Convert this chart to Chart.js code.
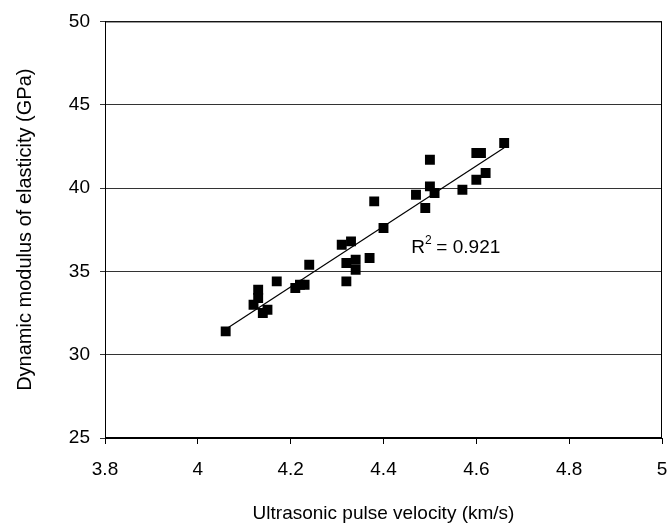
<!DOCTYPE html>
<html>
<head>
<meta charset="utf-8">
<script src="https://cdn.jsdelivr.net/npm/chart.js@4"></script>
<style>
  html, body { margin: 0; padding: 0; background: #fff; }
  #wrap { width: 671px; height: 526px; }
</style>
</head>
<body>
<div id="wrap"><canvas id="chart" width="671" height="526"></canvas></div>
<script>
// Ultrasonic pulse velocity (km/s)
const velocity = [4.06, 4.12, 4.13, 4.13, 4.14, 4.15, 4.17, 4.21, 4.22, 4.23, 4.24,
                  4.31, 4.33, 4.32, 4.34, 4.34, 4.32, 4.37, 4.38, 4.40,
                  4.50, 4.50, 4.47, 4.49, 4.51, 4.57, 4.60, 4.61, 4.60, 4.62, 4.66];
// Dynamic modulus of elasticity (GPa)
const modulus = [31.4, 33.0, 33.9, 33.4, 32.5, 32.7, 34.4, 34.0, 34.2, 34.2, 35.4,
                 36.6, 36.8, 35.5, 35.7, 35.1, 34.4, 35.8, 39.2, 37.6,
                 41.7, 40.1, 39.6, 38.8, 39.7, 39.9, 42.1, 42.1, 40.5, 40.9, 42.7];
const xTicks = [3.8, 4, 4.2, 4.4, 4.6, 4.8, 5];
const yTicks = [25, 30, 35, 40, 45, 50];
const r2Label = '0.921';

// least squares fit for the trend line
function linearFit(xs, ys) {
    const n = xs.length;
    const mx = xs.reduce((a, b) => a + b, 0) / n;
    const my = ys.reduce((a, b) => a + b, 0) / n;
    let sxy = 0, sxx = 0;
    for (let i = 0; i < n; i++) {
        sxy += (xs[i] - mx) * (ys[i] - my);
        sxx += (xs[i] - mx) * (xs[i] - mx);
    }
    const slope = sxy / sxx;
    return { slope, intercept: my - slope * mx };
}

const fit = linearFit(velocity, modulus);
const xMin = Math.min(...velocity);
const xMax = Math.max(...velocity);
const trend = [xMin, xMax].map(x => ({ x, y: fit.intercept + fit.slope * x }));
const points = velocity.map((v, i) => ({ x: v, y: modulus[i] }));

const font = 'Liberation Sans, Arial, sans-serif';

// frame around the plot area and the R² label
const extras = {
    id: 'extras',
    afterDraw(chart) {
        const { ctx, chartArea: a, scales } = chart;
        ctx.save();
        ctx.strokeStyle = '#000';
        ctx.lineWidth = 1;
        ctx.strokeRect(a.left + 0.5, a.top + 0.5, a.right - a.left - 1, a.bottom - a.top - 1);

        const px = scales.x.getPixelForValue(4.46);
        const py = scales.y.getPixelForValue(36.1);
        ctx.fillStyle = '#000';
        ctx.textBaseline = 'alphabetic';
        ctx.font = '19px ' + font;
        ctx.fillText('R', px, py);
        const w = ctx.measureText('R').width;
        ctx.font = '12px ' + font;
        ctx.fillText('2', px + w, py - 9);
        ctx.font = '19px ' + font;
        ctx.fillText(' = ' + r2Label, px + w + 6, py);
        ctx.restore();
    }
};

new Chart(document.getElementById('chart').getContext('2d'), {
    type: 'scatter',
    data: {
        datasets: [{
            label: 'Data',
            data: points,
            pointStyle: 'rect',
            pointRadius: 7,
            backgroundColor: '#000',
            borderColor: '#000',
            borderWidth: 0
        }, {
            type: 'line',
            label: 'Trend',
            data: trend,
            borderColor: '#000',
            borderWidth: 1.2,
            pointRadius: 0,
            fill: false
        }]
    },
    options: {
        responsive: false,
        animation: false,
        events: [],
        layout: { padding: { top: 20, right: 0, left: 0, bottom: 0 } },
        plugins: {
            legend: { display: false },
            tooltip: { enabled: false }
        },
        scales: {
            x: {
                type: 'linear',
                min: 3.8,
                max: 5,
                afterBuildTicks: scale => { scale.ticks = xTicks.map(v => ({ value: v })); },
                afterFit: scale => { scale.height = 88; scale.paddingRight = 9; },
                grid: { display: true, drawOnChartArea: false, tickLength: 6, color: '#000' },
                border: { color: '#000' },
                ticks: { color: '#000', font: { family: font, size: 19 }, padding: 14,
                         maxRotation: 0, callback: v => String(v) },
                title: { display: true, text: 'Ultrasonic pulse velocity (km/s)', color: '#000',
                         font: { family: font, size: 19 }, padding: { top: 0, bottom: 1 } }
            },
            y: {
                min: 25,
                max: 50,
                afterBuildTicks: scale => { scale.ticks = yTicks.map(v => ({ value: v })); },
                afterFit: scale => { scale.width = 105; },
                grid: { color: '#333', lineWidth: 1, tickLength: 5 },
                border: { color: '#000' },
                ticks: { color: '#000', font: { family: font, size: 19 }, padding: 10 },
                title: { display: true, text: 'Dynamic modulus of elasticity (GPa)', color: '#000',
                         font: { family: font, size: 20 }, padding: { top: 13, bottom: 0 } }
            }
        }
    },
    plugins: [extras]
});
</script>
</body>
</html>
